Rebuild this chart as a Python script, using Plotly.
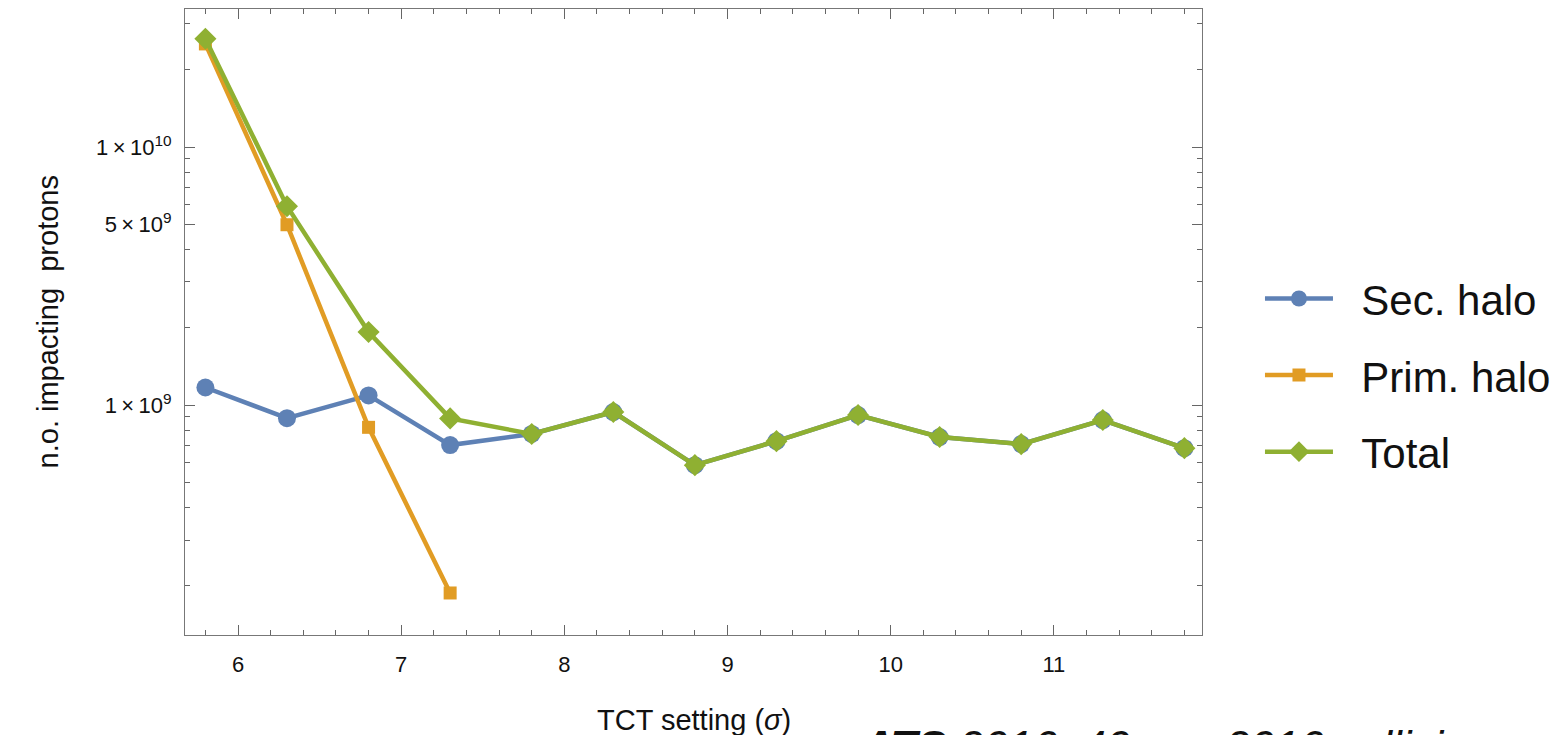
import plotly.graph_objects as go

x_sigma = [5.8, 6.3, 6.8, 7.3, 7.8, 8.3, 8.8, 9.3, 9.8, 10.3, 10.8, 11.3, 11.8]
sec_halo = [1.17e9, 8.9e8, 1.09e9, 7.0e8, 7.73e8, 9.4e8, 5.85e8, 7.25e8, 9.15e8, 7.52e8, 7.06e8, 8.75e8, 6.81e8]
prim_x = [5.8, 6.3, 6.8, 7.3]
prim_halo = [2.51e10, 5.0e9, 8.2e8, 1.87e8]
total = [2.63e10, 5.9e9, 1.92e9, 8.88e8, 7.73e8, 9.4e8, 5.85e8, 7.25e8, 9.15e8, 7.52e8, 7.06e8, 8.75e8, 6.81e8]

series_names = ["Sec. halo", "Prim. halo", "Total"]
colors = ["#5E81B5", "#E19C24", "#8FB032"]

x_ticks = [6, 7, 8, 9, 10, 11]
x_minor = [5.8, 6.2, 6.4, 6.6, 6.8, 7.2, 7.4, 7.6, 7.8, 8.2, 8.4, 8.6, 8.8, 9.2, 9.4, 9.6, 9.8,
           10.2, 10.4, 10.6, 10.8, 11.2, 11.4, 11.6, 11.8]
y_ticks = [1e9, 5e9, 1e10]
y_ticktext = ["1\u2009×\u200910<sup>9</sup>", "5\u2009×\u200910<sup>9</sup>", "1\u2009×\u200910<sup>10</sup>"]
y_minor = [2e8, 3e8, 4e8, 5e8, 6e8, 7e8, 8e8, 9e8, 2e9, 3e9, 4e9, 6e9, 7e9, 8e9, 9e9, 2e10, 3e10]

fig = go.Figure()
fig.add_trace(go.Scatter(x=x_sigma, y=sec_halo, name="\u00a0\u00a0" + series_names[0], mode="lines+markers",
                         line=dict(color=colors[0], width=4.5),
                         marker=dict(symbol="circle", size=18, color=colors[0]),
                         legendgroup="a"))
fig.add_trace(go.Scatter(x=prim_x, y=prim_halo, name="\u00a0\u00a0" + series_names[1], mode="lines+markers",
                         line=dict(color=colors[1], width=4.5),
                         marker=dict(symbol="square", size=13, color=colors[1]),
                         legendgroup="b"))
fig.add_trace(go.Scatter(x=x_sigma, y=total, name="\u00a0\u00a0" + series_names[2], mode="lines+markers",
                         line=dict(color=colors[2], width=4.5),
                         marker=dict(symbol="diamond", size=17, color=colors[2]),
                         legendgroup="c"))

axis_common = dict(showline=True, linecolor="#777777", linewidth=1, mirror="ticks",
                   ticks="inside", tickcolor="#666666", tickwidth=1, ticklen=10,
                   showgrid=False, zeroline=False)

fig.update_xaxes(range=[5.675, 11.908], tickmode="array", tickvals=x_ticks,
                 ticktext=[str(v) for v in x_ticks],
                 tickfont=dict(family="Liberation Sans, Arial, sans-serif", size=22, color="#111111"),
                 minor=dict(tickmode="array", tickvals=x_minor, ticklen=5, ticks="inside",
                            tickcolor="#666666", tickwidth=1, showgrid=False),
                 ticklabelstandoff=10, **axis_common)
fig.update_yaxes(type="log", range=[8.109, 10.535], tickmode="array", tickvals=y_ticks,
                 ticktext=y_ticktext,
                 tickfont=dict(family="Liberation Sans, Arial, sans-serif", size=22, color="#111111"),
                 minor=dict(tickmode="array", tickvals=y_minor, ticklen=5, ticks="inside",
                            tickcolor="#666666", tickwidth=1, showgrid=False),
                 ticklabelstandoff=8, **axis_common)

title_font = dict(family="Liberation Sans, Arial", size=29, color="#111111")
fig.add_annotation(text="n.o. impacting\u00a0\u00a0protons", xref="paper", yref="paper",
                   x=-0.152, y=0.5, textangle=-90, showarrow=False, font=title_font)
fig.add_annotation(text="TCT setting (<i>σ</i>)", xref="paper", yref="paper",
                   x=0.5, y=-0.136, yanchor="middle", showarrow=False, font=title_font)
fig.add_annotation(text="<b><i>ATS</i></b> <i>2016, 40 cm, 2016 collisions</i>", xref="paper", yref="paper",
                   x=(859 - 185) / 1017, xanchor="left", y=-(720 - 635) / 626, yanchor="top",
                   showarrow=False,
                   font=dict(family="Liberation Sans, Arial", size=44, color="#111111"))

fig.update_layout(
    width=1553, height=727,
    margin=dict(l=177, r=359, t=1, b=100),
    plot_bgcolor="white", paper_bgcolor="white",
    legend=dict(x=1.057, xanchor="left", y=0.415, yanchor="middle", itemwidth=68,
                font=dict(family="Liberation Sans, Arial", size=42, color="#111111"),
                tracegroupgap=19, bgcolor="rgba(0,0,0,0)"),
    showlegend=True,
)

fig.write_html("out.html")
